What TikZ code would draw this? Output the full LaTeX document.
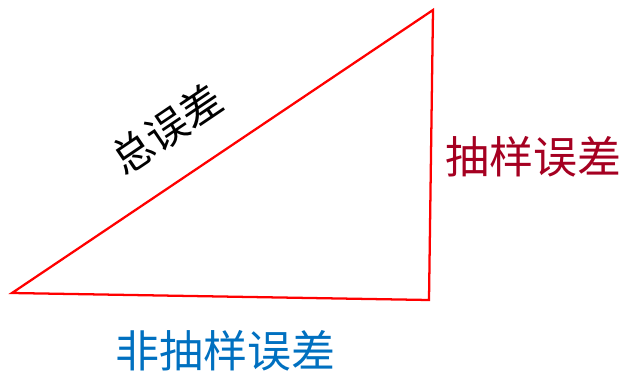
\documentclass[tikz,border=0pt]{standalone}
\usepackage{fontspec}
\newfontfamily\cjk{Noto Sans CJK SC}
\definecolor{darkred}{HTML}{A50021}
\definecolor{myblue}{HTML}{0070C0}
\begin{document}
\begin{tikzpicture}[x=0.75pt,y=-0.75pt,
  edge/.style={draw=red,line width=1.7pt,line join=miter},
  lab/.style={font=\cjk\fontsize{33pt}{36pt}\selectfont,inner sep=0pt}]
\useasboundingbox (0,0) rectangle (621,372);
\coordinate (A) at (12,293);
\coordinate (B) at (433,10);
\coordinate (C) at (429,300);
\draw[edge] (A) -- (B) -- (C) -- cycle;
\node[lab,rotate=34,font=\cjk\fontsize{31pt}{34pt}\selectfont] (t1) at (167,129) {总误差};
\node[lab,text=darkred] (t2) at (533,157) {抽样误差};
\node[lab,text=myblue] (t3) at (225,351) {非抽样误差};
\end{tikzpicture}
\end{document}
